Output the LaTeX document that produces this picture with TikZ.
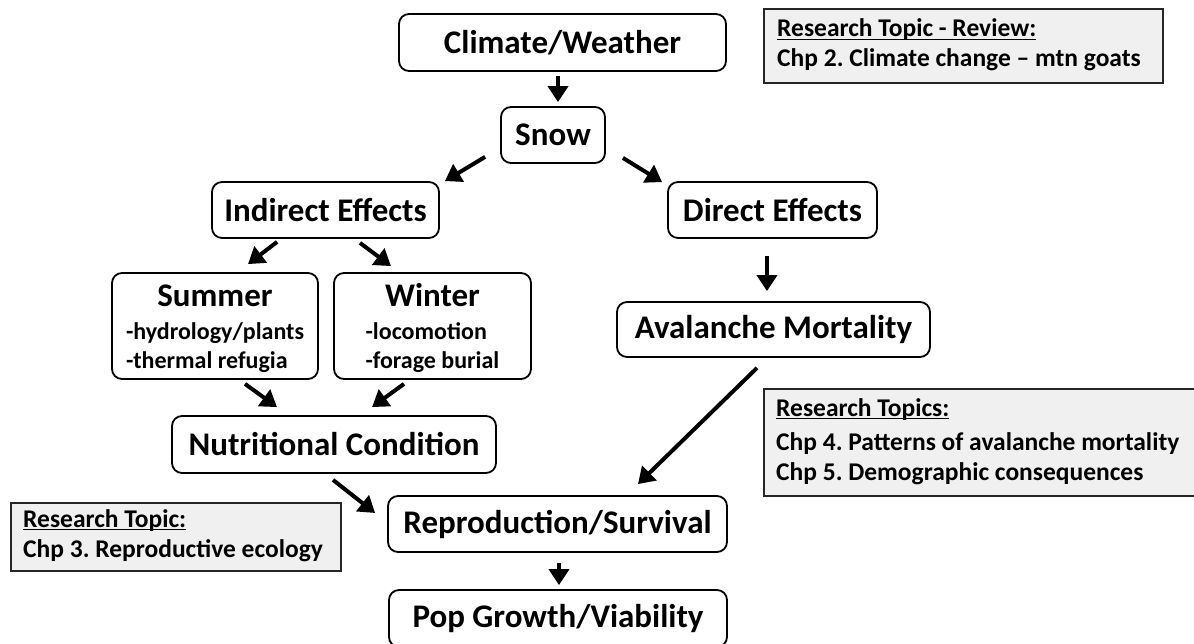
\documentclass[tikz,border=0pt]{standalone}
\usepackage{fontspec}
\setmainfont{Carlito}[BoldFont={Carlito Bold}]
\usetikzlibrary{arrows.meta}
\frenchspacing
\newcommand\myul[1]{\setbox0=\hbox{#1}\rlap{\rule[-3.2pt]{\wd0}{1.6pt}}\box0}
\tikzset{
  box/.style={draw=black, line width=1.8pt, rounded corners=10pt, inner sep=0pt,
    font=\bfseries\fontsize{33}{37}\selectfont, align=center},
  twobox/.style={box, font=\bfseries\fontsize{24}{29}\selectfont},
  notebox/.style={draw=black!85, line width=1.8pt, fill=black!6, inner sep=0pt},
  notetext/.style={inner sep=0pt, anchor=base west, align=left,
    font=\bfseries\fontsize{25.5}{30}\selectfont},
  arr/.style={line width=4pt, -{Triangle[length=16pt,width=20pt]}}
}
\begin{document}
\begin{tikzpicture}[x=1pt,y=-1pt]
\useasboundingbox (0,0) rectangle (1194,644);
% main boxes
\node[box, minimum width=327pt, minimum height=57pt] (climate) at (562.5,42.5) {Climate/Weather};
\node[box, minimum width=104pt, minimum height=56pt] (snow) at (553,135) {Snow};
\node[box, minimum width=227pt, minimum height=56pt] (indirect) at (325.5,210) {Indirect Effects};
\node[box, minimum width=209pt, minimum height=56pt] (direct) at (772.5,210) {Direct Effects};
\node[twobox, minimum width=206pt, minimum height=106pt] (summer) at (215,326)
  {{\fontsize{33}{37}\selectfont\rule{0pt}{31pt}Summer}\\[4pt]
   \begin{tabular}[t]{@{}l@{}}-hydrology/plants\\-thermal refugia\end{tabular}};
\node[twobox, minimum width=197pt, minimum height=106pt] (winter) at (432.5,326)
  {{\fontsize{33}{37}\selectfont\rule{0pt}{31pt}Winter}\\[4pt]
   \begin{tabular}[t]{@{}l@{}}-locomotion\\-forage burial\end{tabular}};
\node[box, minimum width=313pt, minimum height=55pt] (avalanche) at (773.5,329.5) {Avalanche Mortality};
\node[box, minimum width=324pt, minimum height=57pt] (nutrition) at (334,444.5) {Nutritional Condition};
\node[box, minimum width=339pt, minimum height=56pt] (repro) at (557.5,524) {Reproduction/Survival};
\node[box, minimum width=338pt, minimum height=57pt] (pop) at (558,618.5) {Pop Growth/Viability};
% research notes
\node[notebox, minimum width=399pt, minimum height=74pt] (review) at (963.5,46) {};
\node[notetext] (reviewtext) at (777,67)
  {\myul{Research Topic - Review:}\\ Chp 2. Climate change – mtn goats};
\node[notebox, minimum width=434pt, minimum height=107pt] (topics) at (981,442.5) {};
\node[notetext] (topicstext) at (776,480)
  {\myul{Research Topics:}\\[4pt] Chp 4. Patterns of avalanche mortality\\ Chp 5. Demographic consequences};
\node[notebox, minimum width=330pt, minimum height=68pt] (topic3) at (176,537) {};
\node[notetext] (topic3text) at (23,557)
  {\myul{Research Topic:}\\ Chp 3. Reproductive ecology};
% arrows
\draw[arr] ([shift={(-4.5,4)}]climate.south) -- ([shift={(5,-4)}]snow.north);
\draw[arr] ([shift={(-15,-7)}]snow.south west) -- ([shift={(5,0)}]indirect.north east);
\draw[arr] ([shift={(17,-6)}]snow.south east) -- ([shift={(-5,1)}]direct.north west);
\draw[arr] ([shift={(66,3)}]indirect.south west) -- ([shift={(33,-8)}]summer.north);
\draw[arr] ([shift={(34.5,4)}]indirect.south) -- ([shift={(-41.5,-6)}]winter.north);
\draw[arr] ([shift={(-5.5,17)}]direct.south) -- ([shift={(-6.5,-10)}]avalanche.north);
\draw[arr] ([shift={(30,4)}]summer.south) -- ([shift={(-57,-8)}]nutrition.north);
\draw[arr] ([shift={(-28.5,4)}]winter.south) -- ([shift={(38,-8)}]nutrition.north);
\draw[arr] ([shift={(-1,6)}]nutrition.south) -- ([shift={(-12,-11)}]repro.west);
\draw[arr] ([shift={(-16.5,10)}]avalanche.south) -- ([shift={(80.5,-11)}]repro.north);
\draw[arr] ([shift={(1.5,10)}]repro.south) -- ([shift={(1,-4)}]pop.north);
\end{tikzpicture}
\end{document}
